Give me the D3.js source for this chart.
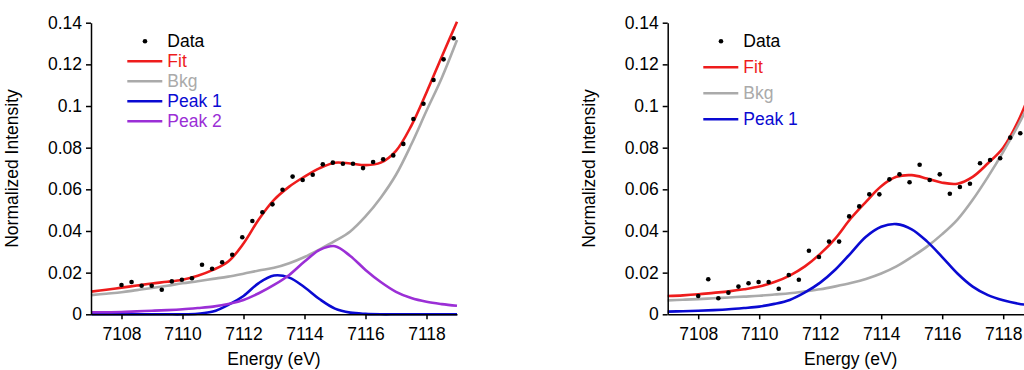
<!DOCTYPE html>
<html>
<head>
<meta charset="utf-8">
<script src="https://cdn.jsdelivr.net/npm/d3@7"></script>
<style>
  body { margin: 0; background: #fff; }
  svg { display: block; font-family: "Liberation Sans", Arial, sans-serif; }
  .axis path, .axis line { stroke: #000; stroke-width: 1.5px; }
  .axis text { font-size: 17.5px; fill: #000; }
</style>
</head>
<body>
<svg id="chart" width="1024" height="370"></svg>
<script>
// ---- data ----
var xTicks = [7108, 7110, 7112, 7114, 7116, 7118];
var yTicks = [0, 0.02, 0.04, 0.06, 0.08, 0.1, 0.12, 0.14];

// left panel (two peaks)
var leftDataE = [7108.00, 7108.33, 7108.66, 7108.99, 7109.32, 7109.65, 7109.98, 7110.31, 7110.64, 7110.97,
                 7111.30, 7111.63, 7111.96, 7112.29, 7112.62, 7112.95, 7113.28, 7113.61, 7113.94, 7114.27,
                 7114.60, 7114.93, 7115.26, 7115.59, 7115.92, 7116.25, 7116.58, 7116.91, 7117.24, 7117.57,
                 7117.90, 7118.23, 7118.56, 7118.89];
var leftDataY = [0.0141, 0.0155, 0.0137, 0.0137, 0.0118, 0.0158, 0.0166, 0.0173, 0.0238, 0.0219,
                 0.0250, 0.0286, 0.0370, 0.0448, 0.0490, 0.0528, 0.0598, 0.0661, 0.0645, 0.0670,
                 0.0720, 0.0728, 0.0723, 0.0723, 0.0702, 0.0731, 0.0744, 0.0763, 0.0818, 0.0938,
                 0.1011, 0.1125, 0.1224, 0.1325];

var curveE = [7107, 7107.5, 7108, 7108.5, 7109, 7109.5, 7110, 7110.5, 7111, 7111.5, 7112, 7112.5,
              7113, 7113.5, 7114, 7114.5, 7115, 7115.5, 7116, 7116.5, 7117, 7117.5, 7118, 7118.5, 7119];

var leftFit  = [0.0109, 0.0118, 0.0128, 0.0138, 0.0148, 0.0156, 0.0166, 0.0185, 0.0213, 0.0253, 0.0340, 0.0455,
                0.0549, 0.0613, 0.0661, 0.0702, 0.0728, 0.0724, 0.0716, 0.0728, 0.0785, 0.0905, 0.1065, 0.1237, 0.1405];
var leftBkg  = [0.0092, 0.0099, 0.0106, 0.0116, 0.0126, 0.0137, 0.0149, 0.0159, 0.0170, 0.0181, 0.0195, 0.0210,
                0.0223, 0.0245, 0.0275, 0.0312, 0.0352, 0.0398, 0.0470, 0.0560, 0.0670, 0.0815, 0.0977, 0.1135, 0.1317];
var leftPk1  = [0, 0, 0, 0, 0, 0, 0, 0.0003, 0.0013, 0.0045, 0.0088, 0.0150,
                0.0186, 0.0176, 0.0130, 0.0072, 0.0027, 0.0008, 0.0002, 0, 0, 0, 0, 0, 0];
var leftPk2  = [0.0010, 0.0010, 0.0011, 0.0014, 0.0017, 0.0020, 0.0024, 0.0030, 0.0037, 0.0049, 0.0069, 0.0101,
                0.0141, 0.0189, 0.0253, 0.0309, 0.0327, 0.0280, 0.0213, 0.0155, 0.0108, 0.0078, 0.0060, 0.0049, 0.0041];

// right panel (one peak)
var rightDataE = [7108.00, 7108.33, 7108.66, 7108.99, 7109.32, 7109.65, 7109.98, 7110.31, 7110.64, 7110.97,
                  7111.30, 7111.63, 7111.96, 7112.29, 7112.62, 7112.95, 7113.28, 7113.61, 7113.94, 7114.27,
                  7114.60, 7114.93, 7115.26, 7115.59, 7115.92, 7116.25, 7116.58, 7116.91, 7117.24, 7117.57,
                  7117.90, 7118.23, 7118.56];
var rightDataY = [0.0088, 0.0168, 0.0077, 0.0104, 0.0133, 0.0149, 0.0155, 0.0155, 0.0123, 0.0189,
                  0.0166, 0.0305, 0.0275, 0.0349, 0.0349, 0.0470, 0.0518, 0.0576, 0.0576, 0.0648,
                  0.0672, 0.0634, 0.0718, 0.0645, 0.0672, 0.0579, 0.0611, 0.0627, 0.0725, 0.0741,
                  0.0749, 0.0848, 0.0869];

var rightFit = [0.0088, 0.0091, 0.0096, 0.0103, 0.0110, 0.0120, 0.0133, 0.0155, 0.0186, 0.0230, 0.0290, 0.0365,
                0.0460, 0.0540, 0.0615, 0.0660, 0.0668, 0.0652, 0.0632, 0.0627, 0.0660, 0.0725, 0.0800, 0.0930, 0.1110];
var rightBkg = [0.0067, 0.0070, 0.0073, 0.0077, 0.0081, 0.0085, 0.0089, 0.0095, 0.0101, 0.0110, 0.0120, 0.0134,
                0.0150, 0.0170, 0.0196, 0.0230, 0.0275, 0.0325, 0.0385, 0.0455, 0.0550, 0.0660, 0.0780, 0.0910, 0.1060];
var rightPk1 = [0.0013, 0.0015, 0.0017, 0.0020, 0.0024, 0.0030, 0.0037, 0.0050, 0.0069, 0.0105, 0.0152, 0.0215,
                0.0293, 0.0372, 0.0420, 0.0433, 0.0408, 0.0350, 0.0275, 0.0196, 0.0133, 0.0092, 0.0067, 0.0051, 0.0042];

var colors = { fit: "#ee1c1c", bkg: "#aaaaaa", pk1: "#0a0ad2", pk2: "#9b2fd6" };

var svg = d3.select("#chart");
var plotW = 366, plotH = 291.6;

function panel(left, opts) {
    var g = svg.append("g")
        .attr("transform", "translate(" + left + ",22.7)");

    var x = d3.scaleLinear().domain([7107, 7119]).range([0, plotW]);
    var y = d3.scaleLinear().domain([0, 0.14]).range([plotH, 0]);

    var line = d3.line()
        .x(function(d){ return x(d[0]); })
        .y(function(d){ return y(d[1]); })
        .curve(d3.curveCatmullRom.alpha(0.5));

    opts.curves.forEach(function(c){
        g.append("path")
            .datum(curveE.map(function(e, i){ return [e, c.values[i]]; }))
            .attr("d", line)
            .style("fill", "none")
            .style("stroke", c.color)
            .style("stroke-width", "2.6px");
    });

    g.selectAll("circle.pt")
        .data(opts.dataE.map(function(e, i){ return [e, opts.dataY[i]]; }))
        .enter()
        .append("circle")
        .attr("class", "pt")
        .attr("cx", function(d){ return x(d[0]); })
        .attr("cy", function(d){ return y(d[1]); })
        .attr("r", 2.3)
        .style("fill", "#000");

    g.append("g")
        .attr("class", "axis")
        .attr("transform", "translate(0," + plotH + ")")
        .call(d3.axisBottom(x).tickValues(xTicks).tickSize(5).tickPadding(8)
            .tickFormat(d3.format("d")).tickSizeOuter(0));

    g.append("g")
        .attr("class", "axis")
        .call(d3.axisLeft(y).tickValues(yTicks).tickSize(5).tickPadding(4)
            .tickFormat(function(d){ return d === 0 ? "0" : String(+d.toFixed(2)); })
            .tickSizeOuter(0));

    g.append("text")
        .attr("transform", "translate(" + (-73) + "," + (plotH / 2) + ") rotate(-90)")
        .attr("text-anchor", "middle")
        .style("font-size", "17.5px")
        .text("Normalized Intensity");

    g.append("text")
        .attr("x", plotW / 2)
        .attr("y", 342)
        .attr("text-anchor", "middle")
        .style("font-size", "17.5px")
        .text("Energy (eV)");

    // legend
    var lg = g.append("g")
        .attr("transform", "translate(" + opts.legX + "," + (41.3 - 22.7) + ")");
    lg.append("circle")
        .attr("cx", 17.7)
        .attr("cy", 0)
        .attr("r", 2.3)
        .style("fill", "#000");
    lg.append("text")
        .attr("x", 40)
        .attr("dy", "0.35em")
        .style("font-size", "17.5px")
        .text("Data");
    opts.curves.forEach(function(c, i){
        var yy = (i + 1) * opts.legStep;
        lg.append("line")
            .attr("x1", 0).attr("x2", 35)
            .attr("y1", yy).attr("y2", yy)
            .style("stroke", c.color)
            .style("stroke-width", "2.6px");
        lg.append("text")
            .attr("x", 40)
            .attr("y", yy)
            .attr("dy", "0.35em")
            .style("font-size", "17.5px")
            .style("fill", c.color)
            .text(c.name);
    });
}

panel(91, {
    dataE: leftDataE, dataY: leftDataY, legX: 36.3, legStep: 20,
    curves: [
        { name: "Fit", values: leftFit, color: colors.fit },
        { name: "Bkg", values: leftBkg, color: colors.bkg },
        { name: "Peak 1", values: leftPk1, color: colors.pk1 },
        { name: "Peak 2", values: leftPk2, color: colors.pk2 }
    ]
});

panel(667.7, {
    dataE: rightDataE, dataY: rightDataY, legX: 35.6, legStep: 26,
    curves: [
        { name: "Fit", values: rightFit, color: colors.fit },
        { name: "Bkg", values: rightBkg, color: colors.bkg },
        { name: "Peak 1", values: rightPk1, color: colors.pk1 }
    ]
});
</script>
</body>
</html>
